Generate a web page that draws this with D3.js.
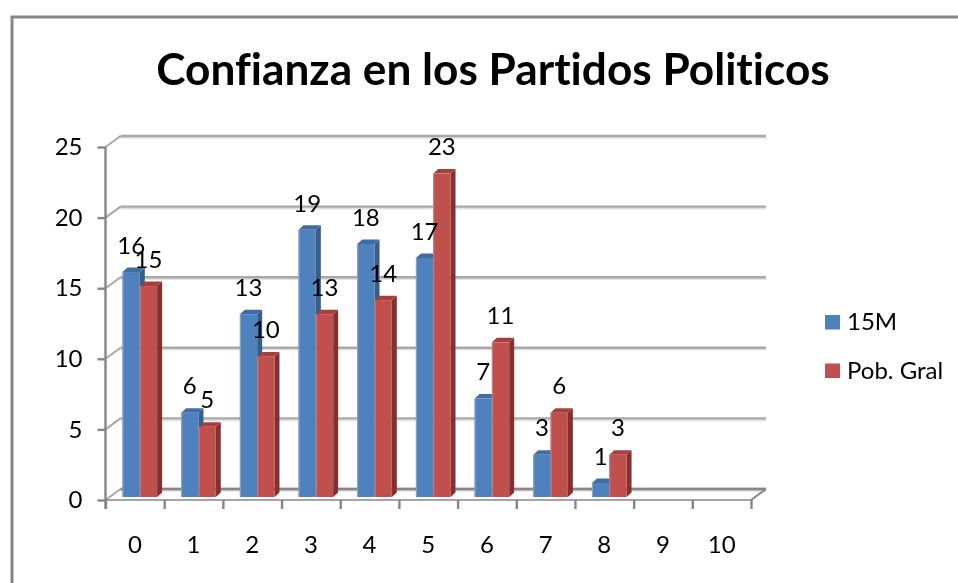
<!DOCTYPE html>
<html><head><meta charset="utf-8">
<script src="https://cdn.jsdelivr.net/npm/d3@7"></script>
<style>html,body{margin:0;padding:0;background:#fff}svg{display:block;filter:blur(0.35px)}text{font-family:Lato,"Open Sans",sans-serif;fill:#000;font-variant-ligatures:none}</style>
</head><body><svg id="c" width="958" height="583"></svg>
<script>
const categories=["0","1","2","3","4","5","6","7","8","9","10"];
const seriesNames=["15M","Pob. Gral"];
const values15M=[16,6,13,19,18,17,7,3,1,null,null];
const valuesPob=[15,5,10,13,14,23,11,6,3,null,null];
const yTicks=[0,5,10,15,20,25];
const titleText="Confianza en los Partidos Politicos";
const fills=["#4F81BD","#C0504D"],sides=["#385D8A","#7F3331"],tops=["#3F6CA3","#A5403D"];
const svg=d3.select("#c");
const dx=15,dy=-11,gridGrey="#A8A8A8",axisGrey="#868686",labelSize=24;
const x=d3.scaleBand().domain(categories).range([105.5,751]);
const y=d3.scaleLinear().domain([0,25]).range([500,147]);
const barY=d3.scaleLinear().domain([0,25]).range([497,145.5]);
const barW=17.3,barStart=17,depthX=5,depthY=4.5;
// frame
svg.append("path").attr("d","M12,583V17H958").attr("fill","none").attr("stroke",axisGrey).attr("stroke-width",3);
svg.append("text").attr("x",493).attr("y",85).attr("text-anchor","middle").attr("font-size",44.2).attr("font-weight",700).text(titleText);
// walls
const wall=svg.append("g");
yTicks.forEach(t=>{
  wall.append("line").attr("x1",x.range()[0]+dx).attr("x2",x.range()[1]+dx).attr("y1",y(t)+dy+1.8).attr("y2",y(t)+dy+1.8).attr("stroke","#E2E2E2").attr("stroke-width",2);
  wall.append("line").attr("x1",x.range()[0]+dx).attr("x2",x.range()[1]+dx).attr("y1",y(t)+dy).attr("y2",y(t)+dy).attr("stroke",gridGrey).attr("stroke-width",2.4);
  wall.append("line").attr("x1",x.range()[0]).attr("x2",x.range()[0]+dx).attr("y1",y(t)).attr("y2",y(t)+dy).attr("stroke",gridGrey).attr("stroke-width",2);
});
wall.append("line").attr("x1",x.range()[1]).attr("x2",x.range()[1]+dx).attr("y1",y(0)).attr("y2",y(0)+dy).attr("stroke",axisGrey).attr("stroke-width",2);
wall.append("line").attr("x1",x.range()[0]+dx).attr("x2",x.range()[1]+dx).attr("y1",y(0)+dy).attr("y2",y(0)+dy).attr("stroke",axisGrey).attr("stroke-width",2.4);
// axes
const ax=svg.append("g");
const yAxis=ax.append("g").attr("transform",`translate(${x.range()[0]},0)`).call(d3.axisLeft(y).tickValues(yTicks).tickSize(8).tickPadding(15));
const bounds=d3.range(categories.length+1);
const xb=d3.scaleLinear().domain([0,categories.length]).range(x.range());
const xAxisTicks=ax.append("g").attr("transform",`translate(0,${y(0)})`).call(d3.axisBottom(xb).tickValues(bounds).tickSize(9).tickFormat(""));
const xLabels=ax.append("g").attr("transform",`translate(0,${y(0)+22})`).call(d3.axisBottom(x).tickSize(0).tickPadding(14));
xLabels.select(".domain").remove();
ax.selectAll(".domain,.tick line").attr("stroke",axisGrey).attr("stroke-width",2.4);
yAxis.select(".domain").attr("d",`M0,${y(25)}V${y(0)+9}`);
xAxisTicks.select(".domain").attr("d",`M0,0H0`);
ax.append("line").attr("x1",x.range()[0]).attr("x2",x.range()[1]).attr("y1",y(0)).attr("y2",y(0)).attr("stroke",axisGrey).attr("stroke-width",1.6);
ax.selectAll(".tick text").attr("font-size",labelSize).attr("font-family","Lato").attr("fill","#000");
// bars
const data=[values15M,valuesPob];
data.forEach((vals,s)=>{
  const g=svg.append("g");
  categories.forEach((c,i)=>{
    const v=vals[i]; if(v==null) return;
    const x0=x(c)+barStart+s*barW,x1=x0+barW,yt=barY(v),yb=barY(0);
    g.append("path").attr("d",`M${x1},${yb}L${x1+depthX},${yb-depthY}V${yt-depthY}L${x1},${yt}Z`).attr("fill",sides[s]);
    g.append("path").attr("d",`M${x0},${yt}L${x0+depthX},${yt-depthY}H${x1+depthX}L${x1},${yt}Z`).attr("fill",tops[s]);
    g.append("rect").attr("x",x0).attr("y",yt).attr("width",barW).attr("height",yb-yt).attr("fill",fills[s]);
    g.append("rect").attr("x",x0).attr("y",yt).attr("width",1).attr("height",yb-yt).attr("fill",s?"#CF7F7D":"#86A8D2");
  });
});
// labels
data.forEach((vals,s)=>{
  categories.forEach((c,i)=>{
    const v=vals[i]; if(v==null) return;
    svg.append("text").attr("x",x(c)+barStart+s*barW+barW/2).attr("y",barY(v)-27).attr("dy","0.36em").attr("text-anchor","middle").attr("font-size",labelSize).text(v);
  });
});
// legend
const legend=svg.append("g");
seriesNames.forEach((n,i)=>{
  legend.append("rect").attr("x",825).attr("y",315+i*48.5).attr("width",15).attr("height",14.5).attr("fill",fills[i]);
  legend.append("text").attr("x",847).attr("y",321+i*49).attr("dy","0.36em").attr("font-size",labelSize).text(n);
});
</script></body></html>
